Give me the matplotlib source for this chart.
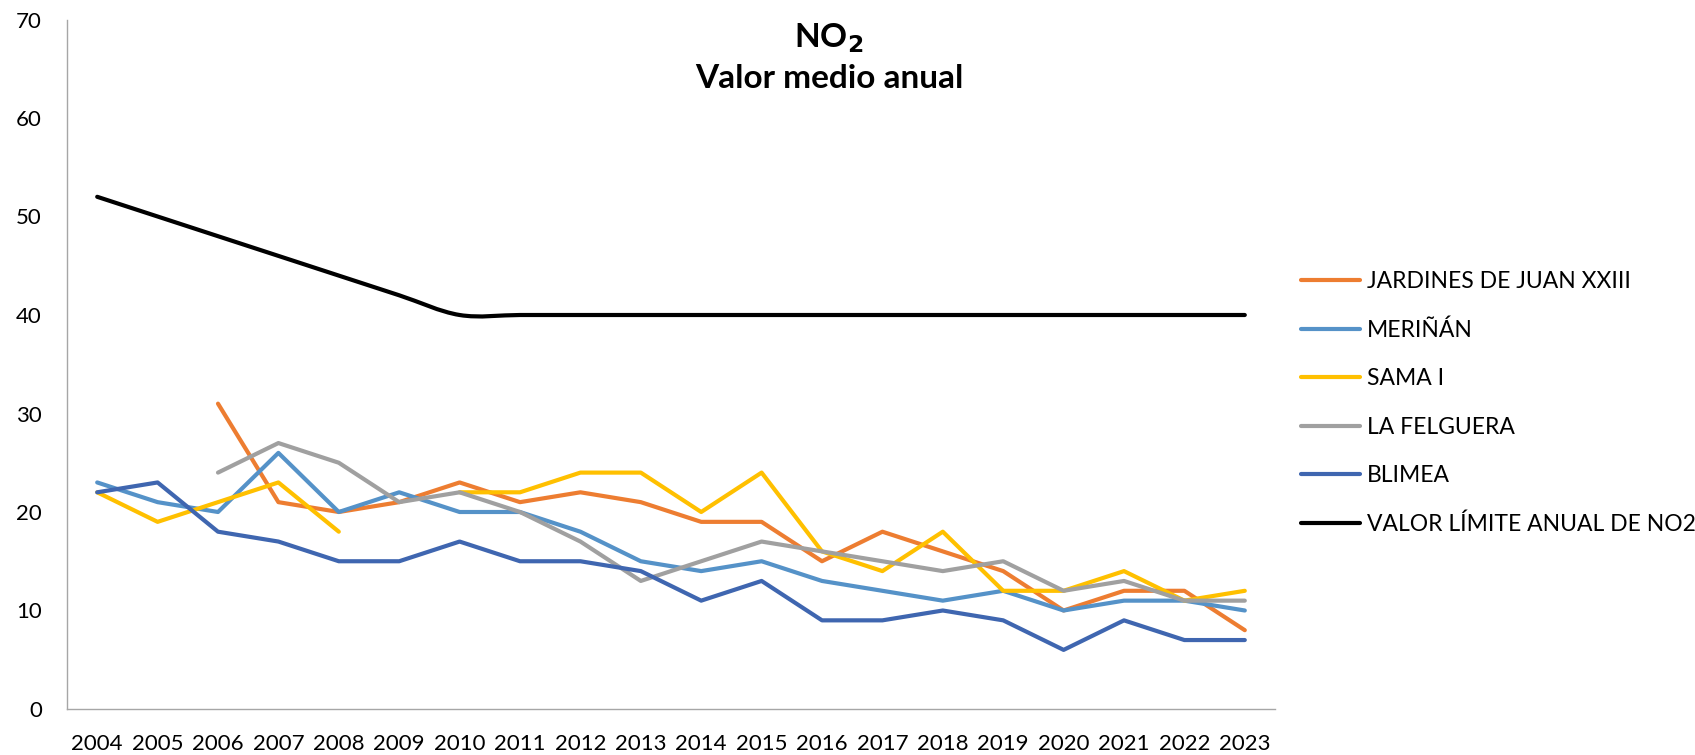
import numpy as np
import matplotlib.pyplot as plt
from matplotlib.path import Path
from matplotlib.patches import PathPatch

years = [str(y) for y in range(2004, 2024)]
nan = np.nan

jardines = [nan, nan, 31, 21, 20, 21, 23, 21, 22, 21, 19, 19, 15, 18, 16, 14, 10, 12, 12, 8]
merinan = [23, 21, 20, 26, 20, 22, 20, 20, 18, 15, 14, 15, 13, 12, 11, 12, 10, 11, 11, 10]
sama = [22, 19, 21, 23, 18, nan, 22, 22, 24, 24, 20, 24, 16, 14, 18, 12, 12, 14, 11, 12]
felguera = [nan, nan, 24, 27, 25, 21, 22, 20, 17, 13, 15, 17, 16, 15, 14, 15, 12, 13, 11, 11]
blimea = [22, 23, 18, 17, 15, 15, 17, 15, 15, 14, 11, 13, 9, 9, 10, 9, 6, 9, 7, 7]
limite = [52, 50, 48, 46, 44, 42, 40, 40, 40, 40, 40, 40, 40, 40, 40, 40, 40, 40, 40, 40]

labels = ['JARDINES DE JUAN XXIII', 'MERIÑÁN', 'SAMA I', 'LA FELGUERA', 'BLIMEA',
          'VALOR LÍMITE ANUAL DE NO2']
colors = ['#ED7D31', '#5592C8', '#FFC000', '#A0A0A0', '#3F66B0', '#000000']

plt.rcParams['font.family'] = ['Lato', 'DejaVu Sans']

fig = plt.figure(figsize=(16.95, 7.55), dpi=100)
ax = fig.add_axes([67/1695, 1-709/755, (1275-67)/1695, (709-19.5)/755])

x = np.arange(len(years))
lw = 3.0
for s, c, lab in zip([jardines, merinan, sama, felguera, blimea], colors[:5], labels[:5]):
    ax.plot(x, np.array(s, dtype=float), color=c, lw=lw, label=lab,
            solid_capstyle='round', solid_joinstyle='round')

# limit line drawn smoothed (like the spreadsheet's smoothed line)
lx = x.astype(float)
ly = np.array(limite, dtype=float)
verts = [(lx[0], ly[0])]
codes = [Path.MOVETO]
for i in range(len(lx) - 1):
    p0 = i - 1 if i > 0 else i
    p3 = i + 2 if i + 2 < len(lx) else i + 1
    c1 = (lx[i] + (lx[i+1] - lx[p0]) / 6, ly[i] + (ly[i+1] - ly[p0]) / 6)
    c2 = (lx[i+1] - (lx[p3] - lx[i]) / 6, ly[i+1] - (ly[p3] - ly[i]) / 6)
    verts += [c1, c2, (lx[i+1], ly[i+1])]
    codes += [Path.CURVE4] * 3
ax.add_patch(PathPatch(Path(verts, codes), fill=False, edgecolor=colors[5], lw=lw,
                       capstyle='round', joinstyle='round'))
ax.plot([], [], color=colors[5], lw=lw, label=labels[5], solid_capstyle='round')

ax.set_xlim(-0.5, len(years) - 0.5)
ax.set_ylim(0, 70)
ax.set_yticks(range(0, 71, 10))
ax.set_xticks(x)
ax.set_xticklabels(years)
ax.tick_params(axis='both', length=0, labelsize=16, colors='#000000')
ax.tick_params(axis='x', pad=18)
ax.tick_params(axis='y', pad=18)
for sp in ['top', 'right']:
    ax.spines[sp].set_visible(False)
for sp in ['left', 'bottom']:
    ax.spines[sp].set_color('#A6A6A6')
    ax.spines[sp].set_linewidth(1)

fig.text(829/1695, 1-38/755, r'NO$_\mathbf{2}$', ha='center', va='center',
         fontsize=24, fontweight='bold')
fig.text(829/1695, 1-79/755, 'Valor medio anual', ha='center', va='center',
         fontsize=24, fontweight='bold')

leg = fig.legend(loc='upper left', bbox_to_anchor=(1280/1695, 1-250/755),
                 frameon=False, fontsize=16.5, handlelength=2.6, handletextpad=0.3,
                 labelspacing=1.2)

fig.savefig('out.png', dpi=100)
